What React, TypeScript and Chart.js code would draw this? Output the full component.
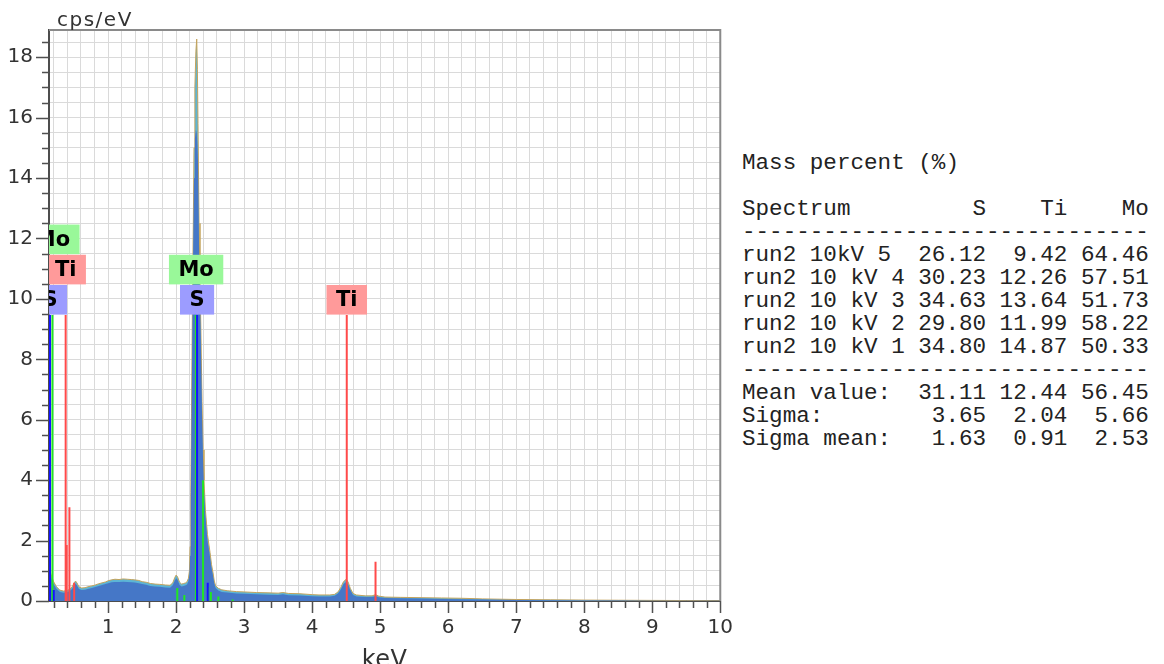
import { useEffect, useRef } from 'react';
import { Chart, registerables } from 'chart.js';

Chart.register(...registerables);

// ---- axes ----
const xMin = 0.13;
const xMax = 10;
const yMin = 0;
const yMax = 18.9;
const xTickLabels = ['1', '2', '3', '4', '5', '6', '7', '8', '9', '10'];
const yTickLabels = ['0', '2', '4', '6', '8', '10', '12', '14', '16', '18'];

// ---- spectrum (keV, cps/eV) ----
const energies = [
  0.13, 0.14, 0.15, 0.17, 0.2, 0.24, 0.29, 0.34, 0.39, 0.43,
  0.47, 0.5, 0.52, 0.54, 0.57, 0.61, 0.66, 0.7, 0.76, 0.81,
  0.86, 0.91, 0.96, 1.0, 1.05, 1.1, 1.16, 1.22, 1.28, 1.34,
  1.39, 1.45, 1.5, 1.56, 1.62, 1.69, 1.76, 1.84, 1.91, 1.95,
  1.98, 2.0, 2.02, 2.05, 2.08, 2.11, 2.14, 2.16, 2.18, 2.195,
  2.205, 2.215, 2.225, 2.237, 2.252, 2.262, 2.275, 2.29, 2.302, 2.312,
  2.321, 2.336, 2.35, 2.361, 2.38, 2.395, 2.409, 2.43, 2.46, 2.498,
  2.52, 2.542, 2.56, 2.58, 2.62, 2.67, 2.75, 2.89, 3.0, 3.18,
  3.35, 3.5, 3.57, 3.65, 3.82, 4.0, 4.1, 4.26, 4.33, 4.38,
  4.42, 4.46, 4.5, 4.53, 4.56, 4.6, 4.65, 4.78, 4.88, 4.93,
  4.98, 5.07, 5.3, 5.6, 5.9, 6.2, 6.5, 7.0, 7.5, 8.0,
  8.5, 9.0, 9.5, 10.0,
];
const countsEnvelope = [
  1.5, 1.2, 0.95, 0.8, 0.63, 0.47, 0.36, 0.33, 0.34, 0.38,
  0.47, 0.6, 0.66, 0.6, 0.47, 0.43, 0.44, 0.47, 0.5, 0.53,
  0.57, 0.6, 0.63, 0.67, 0.7, 0.72, 0.71, 0.73, 0.72, 0.71,
  0.7, 0.68, 0.64, 0.62, 0.58, 0.56, 0.55, 0.53, 0.52, 0.6,
  0.78, 0.86, 0.8, 0.62, 0.56, 0.58, 0.6, 0.64, 0.75, 1.0,
  1.8, 3.6, 6.2, 9.3, 12.5, 15.0, 17.0, 18.2, 18.6, 17.6,
  15.8, 12.5, 10.6, 9.3, 6.6, 5.0, 4.0, 3.0, 2.2, 1.6,
  1.2, 0.93, 0.66, 0.5, 0.42, 0.37, 0.34, 0.31, 0.3, 0.28,
  0.27, 0.26, 0.28, 0.25, 0.24, 0.21, 0.2, 0.2, 0.22, 0.3,
  0.45, 0.64, 0.72, 0.62, 0.42, 0.25, 0.2, 0.17, 0.17, 0.21,
  0.16, 0.13, 0.12, 0.11, 0.1, 0.09, 0.07, 0.05, 0.04, 0.03,
  0.025, 0.02, 0.015, 0.01,
];
const countsFront = [
  1.35, 1.05, 0.85, 0.7, 0.55, 0.4, 0.3, 0.27, 0.28, 0.32,
  0.4, 0.52, 0.57, 0.52, 0.4, 0.36, 0.37, 0.4, 0.43, 0.46,
  0.5, 0.53, 0.56, 0.59, 0.62, 0.63, 0.63, 0.64, 0.63, 0.62,
  0.61, 0.59, 0.56, 0.54, 0.5, 0.48, 0.47, 0.45, 0.44, 0.52,
  0.68, 0.75, 0.7, 0.53, 0.48, 0.5, 0.52, 0.55, 0.65, 0.88,
  1.5, 3.2, 5.8, 8.8, 12.0, 14.0, 15.3, 15.6, 15.5, 15.1,
  14.5, 11.8, 10.0, 8.8, 6.2, 4.7, 3.7, 2.8, 2.0, 1.45,
  1.08, 0.83, 0.58, 0.43, 0.35, 0.3, 0.28, 0.25, 0.24, 0.22,
  0.21, 0.2, 0.22, 0.19, 0.18, 0.16, 0.15, 0.15, 0.17, 0.25,
  0.38, 0.56, 0.63, 0.54, 0.36, 0.2, 0.15, 0.13, 0.13, 0.16,
  0.12, 0.1, 0.09, 0.08, 0.07, 0.06, 0.05, 0.035, 0.028, 0.02,
  0.016, 0.012, 0.009, 0.006,
];

// ---- element marker lines (keV, height) ----
const sLineEnergies = [0.145, 0.2, 2.307, 2.464];
const sLineHeights = [9.47, 0.36, 9.47, 0.6];
const moLineEnergies = [0.18, 2.016, 2.12, 2.29, 2.395, 2.47, 2.51, 2.62, 2.83];
const moLineHeights = [9.47, 0.43, 0.2, 9.47, 4.0, 0.46, 0.3, 0.15, 0.05];
const tiLineEnergies = [0.375, 0.39, 0.43, 0.5, 4.508, 4.931];
const tiLineHeights = [9.47, 1.85, 3.1, 0.6, 9.47, 1.3];

// ---- element labels ----
const labelElements = ['S', 'Ti', 'Mo', 'S', 'Mo', 'Ti'];
const labelEnergies = [0.145, 0.375, 0.18, 2.307, 2.293, 4.508];
const labelLevels = [10, 11, 12, 10, 11, 10];

// ---- table ----
const tableTitle = 'Mass percent (%)';
const tableColumns = ['S', 'Ti', 'Mo'];
const rowNames = ['run2 10kV 5', 'run2 10 kV 4', 'run2 10 kV 3', 'run2 10 kV 2', 'run2 10 kV 1'];
const rowS = ['26.12', '30.23', '34.63', '29.80', '34.80'];
const rowTi = ['9.42', '12.26', '13.64', '11.99', '14.87'];
const rowMo = ['64.46', '57.51', '51.73', '58.22', '50.33'];
const statNames = ['Mean value:', 'Sigma:', 'Sigma mean:'];
const statS = ['31.11', '3.65', '1.63'];
const statTi = ['12.44', '2.04', '0.91'];
const statMo = ['56.45', '5.66', '2.53'];

const boxColors: Record<string, string> = { S: '#9c9cff', Ti: '#ff9a9a', Mo: '#99f899' };

function markerData(es: number[], hs: number[]) {
  const out: { x: number; y: number | null }[] = [];
  es.forEach((e, i) => {
    out.push({ x: e, y: 0 }, { x: e, y: hs[i] }, { x: e, y: null });
  });
  return out;
}

function fmtRow(name: string, a: string, b: string, c: string) {
  return name.padEnd(12) + a.padStart(6) + b.padStart(6) + c.padStart(6);
}

const decorPlugin = {
  id: 'decor',
  afterDatasetsDraw(chart: any) {
    const { ctx, chartArea: a, scales } = chart;
    const xs = scales.x;
    const ys = scales.y;
    ctx.save();
    ctx.beginPath();
    ctx.rect(a.left, a.top, a.right - a.left, a.bottom - a.top);
    ctx.clip();
    ctx.font = 'bold 21px "DejaVu Sans"';
    ctx.textAlign = 'center';
    ctx.textBaseline = 'middle';
    labelElements.forEach((el, i) => {
      const cx = xs.getPixelForValue(labelEnergies[i]);
      const top = ys.getPixelForValue(labelLevels[i] + 0.46);
      const bot = ys.getPixelForValue(labelLevels[i] - 0.52);
      const w = ctx.measureText(el).width + 19;
      ctx.fillStyle = boxColors[el];
      ctx.fillRect(cx - w / 2, top, w, bot - top);
      ctx.fillStyle = '#000';
      ctx.fillText(el, cx, (top + bot) / 2 + 1);
    });
    ctx.restore();
  },
  afterDraw(chart: any) {
    const { ctx, chartArea: a, scales } = chart;
    const xs = scales.x;
    const ys = scales.y;
    ctx.save();
    // frame top/right
    ctx.strokeStyle = '#8a8a8a';
    ctx.lineWidth = 2;
    ctx.beginPath();
    ctx.moveTo(a.left, a.top);
    ctx.lineTo(a.right, a.top);
    ctx.lineTo(a.right, a.bottom);
    ctx.stroke();
    // tick marks
    ctx.strokeStyle = '#505050';
    ctx.lineWidth = 1.5;
    ctx.beginPath();
    xs.ticks.forEach((t: any) => {
      const px = Math.round(xs.getPixelForValue(t.value)) + 0.5;
      const major = xTickLabels.includes(String(t.value));
      ctx.moveTo(px, a.bottom);
      ctx.lineTo(px, a.bottom + (major ? 12 : 7));
    });
    ys.ticks.forEach((t: any) => {
      const py = Math.round(ys.getPixelForValue(t.value)) + 0.5;
      const major = yTickLabels.includes(String(t.value));
      ctx.moveTo(a.left, py);
      ctx.lineTo(a.left - (major ? 13 : 7), py);
    });
    ctx.stroke();
    // axis titles
    ctx.fillStyle = '#333';
    ctx.font = '20px "DejaVu Sans"';
    (ctx as any).letterSpacing = '1.5px';
    ctx.textAlign = 'left';
    ctx.textBaseline = 'alphabetic';
    ctx.fillText('cps/eV', a.left + 8, a.top - 4);
    (ctx as any).letterSpacing = '0.5px';
    ctx.font = '24px "DejaVu Sans"';
    ctx.textAlign = 'center';
    ctx.fillText('keV', (a.left + a.right) / 2, a.bottom + 66);
    ctx.restore();
  },
};

export default function App() {
  const ref = useRef<HTMLCanvasElement | null>(null);

  useEffect(() => {
    if (!ref.current) return;
    Chart.defaults.font.family = '"DejaVu Sans", Verdana, sans-serif';
    Chart.defaults.font.size = 20;
    Chart.defaults.color = '#333';
    const chart = new Chart(ref.current, {
      type: 'line',
      data: {
        datasets: [
          {
            label: 'S',
            data: markerData(sLineEnergies, sLineHeights),
            borderColor: '#1414ff',
            borderWidth: 2,
            pointRadius: 0,
            fill: false,
            spanGaps: false,
            order: 0,
          },
          {
            label: 'Ti',
            data: markerData(tiLineEnergies, tiLineHeights),
            borderColor: '#ff4a4a',
            borderWidth: 2,
            pointRadius: 0,
            fill: false,
            spanGaps: false,
            order: 1,
          },
          {
            label: 'Mo',
            data: markerData(moLineEnergies, moLineHeights),
            borderColor: '#22e622',
            borderWidth: 2,
            pointRadius: 0,
            fill: false,
            spanGaps: false,
            order: 2,
          },
          {
            label: 'front',
            data: energies.map((e, i) => ({ x: e, y: countsFront[i] })),
            borderColor: '#4577c7',
            backgroundColor: '#4577c7',
            borderWidth: 0,
            pointRadius: 0,
            fill: 'origin',
            tension: 0,
            order: 3,
          },
          {
            label: 'envelope',
            data: energies.map((e, i) => ({ x: e, y: countsEnvelope[i] })),
            borderColor: '#c4a35c',
            backgroundColor: '#5cb5d6',
            borderWidth: 1,
            pointRadius: 0,
            fill: 'origin',
            tension: 0,
            order: 4,
          },
        ],
      },
      options: {
        animation: false,
        responsive: false,
        events: [],
        layout: { padding: { top: 30, right: 10, left: 0, bottom: 0 } },
        plugins: {
          legend: { display: false },
          tooltip: { enabled: false },
        },
        scales: {
          x: {
            type: 'linear',
            min: xMin,
            max: xMax,
            afterFit: (s: any) => {
              s.height = 63;
            },
            ticks: {
              stepSize: 0.2,
              includeBounds: false,
              autoSkip: false,
              maxRotation: 0,
              padding: 3,
              color: '#333',
              callback: (v: any) => (xTickLabels.includes(String(v)) ? String(v) : ''),
            },
            grid: {
              color: '#dadada',
              lineWidth: 1,
              drawTicks: true,
              tickLength: 12,
              tickColor: 'rgba(0,0,0,0)',
            },
            border: { color: '#4d4d4d', width: 2 },
          },
          y: {
            type: 'linear',
            min: yMin,
            max: yMax,
            afterFit: (s: any) => {
              s.width = 49;
            },
            ticks: {
              stepSize: 0.5,
              includeBounds: false,
              autoSkip: false,
              padding: 3,
              color: '#333',
              callback: (v: any) => (yTickLabels.includes(String(v)) ? String(v) : ''),
            },
            grid: {
              color: '#dadada',
              lineWidth: 1,
              drawTicks: true,
              tickLength: 13,
              tickColor: 'rgba(0,0,0,0)',
            },
            border: { color: '#4d4d4d', width: 2 },
          },
        },
      },
      plugins: [decorPlugin],
    } as any);
    return () => chart.destroy();
  }, []);

  const lines = [
    tableTitle,
    '',
    fmtRow('Spectrum', tableColumns[0], tableColumns[1], tableColumns[2]),
    '-'.repeat(30),
    ...rowNames.map((n, i) => fmtRow(n, rowS[i], rowTi[i], rowMo[i])),
    '-'.repeat(30),
    ...statNames.map((n, i) => fmtRow(n, statS[i], statTi[i], statMo[i])),
  ];

  return (
    <div style={{ position: 'absolute', left: 0, top: 0, width: 1164, height: 664, background: '#fff', overflow: 'hidden' }}>
      <canvas ref={ref} width={736} height={664} style={{ position: 'absolute', left: 0, top: 0, display: 'block' }} />
      <pre
        style={{
          position: 'absolute',
          left: 742,
          top: 152,
          margin: 0,
          fontFamily: '"Liberation Mono", "Courier New", monospace',
          fontSize: '22.6px',
          lineHeight: '23px',
          color: '#222',
        }}
      >
        {lines.join('\n')}
      </pre>
    </div>
  );
}
